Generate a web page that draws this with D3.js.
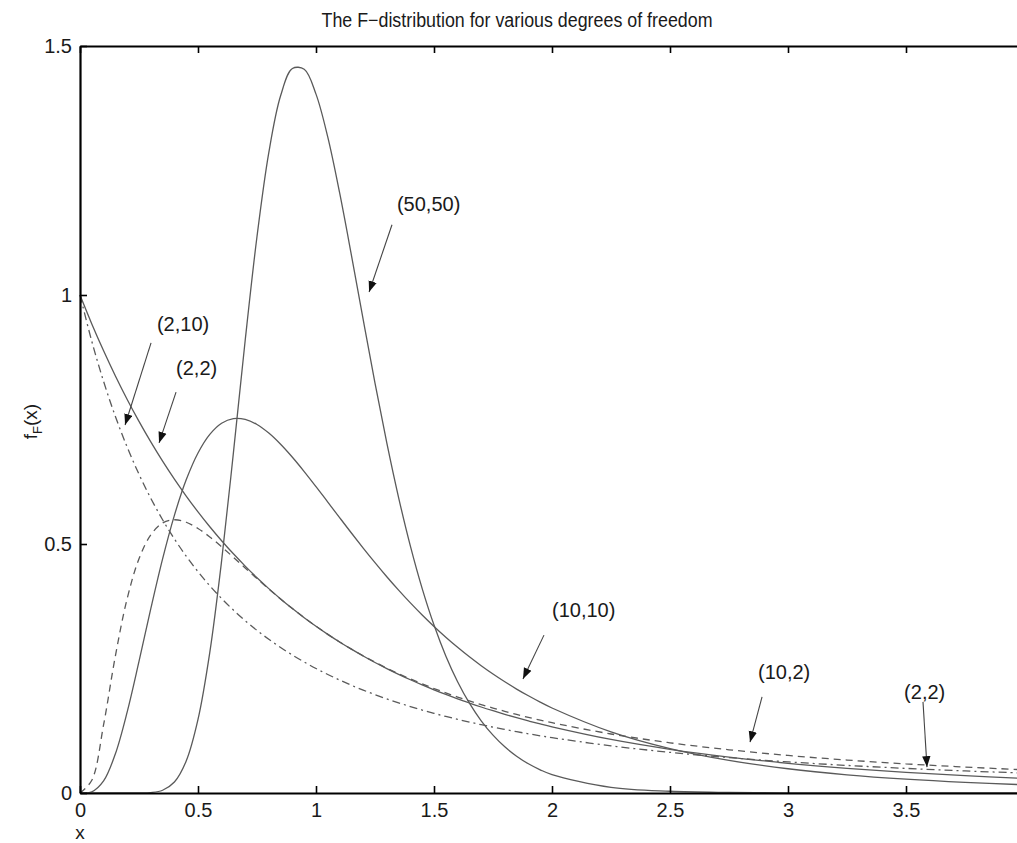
<!DOCTYPE html>
<html>
<head>
<meta charset="utf-8">
<script src="https://cdn.jsdelivr.net/npm/d3@7"></script>
<style>
  html, body { margin: 0; padding: 0; background: #fff; }
  svg { display: block; }
  text { font-family: "Liberation Sans", Arial, Helvetica, sans-serif; fill: #1a1a1a; }
</style>
</head>
<body>
<svg id="chart" width="1017" height="843"></svg>
<script>
// ---------------- data ----------------
const xs = [0,0.05,0.1,0.15,0.2,0.25,0.3,0.35,0.4,0.45,0.5,0.55,0.6,0.65,0.7,0.75,0.8,0.85,0.9,0.95,
            1.0,1.05,1.1,1.15,1.2,1.25,1.3,1.35,1.4,1.45,1.5,1.55,1.6,1.65,1.7,1.75,1.8,1.85,1.9,1.95,
            2.0,2.25,2.5,2.75,3.0,3.25,3.5,3.75,4.0];

const f50_50 = [0,0,0,0,0,0.0001,0.0009,0.0055,0.022,0.0642,0.1477,0.2824,0.466,0.683,0.9091,1.1175,1.286,1.4,1.4548,1.4532,
                1.4034,1.3169,1.2054,1.0803,0.9504,0.8231,0.703,0.5933,0.4957,0.4104,0.3372,0.2752,0.2233,0.1803,0.145,0.1161,0.0927,0.0739,0.0587,0.0466,
                0.0369,0.0114,0.0035,0.0011,0.0004,0.0001,0,0,0];

const f10_10 = [0,0.0024,0.0243,0.0788,0.1628,0.2642,0.3702,0.4702,0.5576,0.6288,0.6828,0.7202,0.7426,0.7519,0.7503,0.74,0.7227,0.7003,0.6742,0.6455,
                0.6152,0.5842,0.553,0.5221,0.4919,0.4626,0.4343,0.4074,0.3817,0.3574,0.3344,0.3128,0.2925,0.2734,0.2556,0.2389,0.2233,0.2087,0.1952,0.1825,
                0.1707,0.1228,0.0892,0.0655,0.0487,0.0366,0.0278,0.0213,0.0165];

const f10_2 = [0,0.0256,0.1372,0.2754,0.3906,0.4704,0.5184,0.5422,0.5487,0.5437,0.5312,0.5142,0.4944,0.4733,0.4518,0.4304,0.4096,0.3895,0.3703,0.3521,
               0.3349,0.3186,0.3033,0.2889,0.2754,0.2627,0.2507,0.2395,0.229,0.2191,0.2097,0.201,0.1927,0.1849,0.1775,0.1706,0.164,0.1578,0.1519,0.1464,
               0.1411,0.1185,0.1008,0.0868,0.0754,0.0662,0.0585,0.0521,0.0466];

const f2_10 = [1,0.942,0.888,0.8375,0.7903,0.7462,0.705,0.6663,0.6302,0.5963,0.5645,0.5346,0.5066,0.4803,0.4556,0.4323,0.4104,0.3898,0.3704,0.3521,
               0.3349,0.3186,0.3033,0.2888,0.2751,0.2621,0.2499,0.2383,0.2274,0.217,0.2072,0.1979,0.189,0.1807,0.1727,0.1652,0.158,0.1512,0.1448,0.1386,
               0.1328,0.1075,0.0878,0.0722,0.0596,0.0495,0.0414,0.0348,0.0294];

const f2_2 = [1,0.907,0.8264,0.7561,0.6944,0.64,0.5917,0.5487,0.5102,0.4756,0.4444,0.4162,0.3906,0.3673,0.346,0.3265,0.3086,0.2922,0.277,0.263,
              0.25,0.238,0.2268,0.2163,0.2066,0.1975,0.189,0.1811,0.1736,0.1666,0.16,0.1538,0.1479,0.1424,0.1372,0.1322,0.1276,0.1231,0.1189,0.1149,
              0.1111,0.0947,0.0816,0.0711,0.0625,0.0554,0.0494,0.0443,0.04];

const xTicks = [0,0.5,1,1.5,2,2.5,3,3.5,4];
const xTickLabels = ["0","0.5","1","1.5","2","2.5","3","3.5","4"];
const yTicks = [0,0.5,1,1.5];
const yTickLabels = ["0","0.5","1","1.5"];

// annotation labels: text anchor point and arrow tail -> tip, in data units
const annLabels = ["(50,50)","(2,10)","(2,2)","(10,10)","(10,2)","(2,2)"];
const annTextX  = [1.343, 0.326, 0.407, 2.0,   2.873, 3.492];
const annTextY  = [1.168, 0.928, 0.839, 0.353, 0.229, 0.189];
const annTailX  = [1.322, 0.301, 0.407, 1.966, 2.890, 3.572];
const annTailY  = [1.141, 0.904, 0.805, 0.317, 0.193, 0.183];
const annTipX   = [1.225, 0.191, 0.335, 1.877, 2.839, 3.589];
const annTipY   = [1.006, 0.739, 0.703, 0.229, 0.102, 0.052];

const titleText = "The F\u2212distribution for various degrees of freedom";

// ---------------- drawing ----------------
const svg = d3.select("#chart");
const x = d3.scaleLinear().domain([0, 4]).range([80, 1024]);
const y = d3.scaleLinear().domain([0, 1.5]).range([793, 46]);

const series = [
  { values: f50_50, dash: null },
  { values: f10_10, dash: null },
  { values: f2_10,  dash: null },
  { values: f10_2,  dash: "7,5" },
  { values: f2_2,   dash: "8,4,2,4" }
];

const line = d3.line()
  .x((d, i) => x(xs[i]))
  .y(d => y(d))
  .curve(d3.curveCatmullRom.alpha(0.5));

svg.append("g").selectAll("path")
  .data(series)
  .join("path")
  .attr("d", s => line(s.values))
  .attr("fill", "none")
  .attr("stroke", "#5a5a5a")
  .attr("stroke-width", 1.3)
  .attr("stroke-dasharray", s => s.dash);

// axes (ticks pointing inward, box)
function styleAxis(g) {
  g.selectAll(".domain").attr("stroke", "#000").attr("stroke-width", 2.2);
  g.selectAll(".tick line").attr("stroke", "#000").attr("stroke-width", 1.6);
  g.selectAll(".tick text").attr("font-size", 20).attr("fill", "#1a1a1a")
    .attr("font-family", "Liberation Sans, Arial, sans-serif");
}

svg.append("g").attr("transform", `translate(0,${y(0)})`)
  .call(d3.axisBottom(x).tickValues(xTicks).tickFormat((d, i) => xTickLabels[i])
        .tickSizeInner(-7).tickSizeOuter(0).tickPadding(10))
  .call(styleAxis);

svg.append("g").attr("transform", `translate(0,${y(1.5)})`)
  .call(d3.axisTop(x).tickValues(xTicks).tickFormat("")
        .tickSizeInner(-7).tickSizeOuter(0))
  .call(styleAxis);

svg.append("g").attr("transform", `translate(${x(0)},0)`)
  .call(d3.axisLeft(y).tickValues(yTicks).tickFormat((d, i) => yTickLabels[i])
        .tickSizeInner(-7).tickSizeOuter(0).tickPadding(8))
  .call(styleAxis);

svg.append("g").attr("transform", `translate(${x(4)},0)`)
  .call(d3.axisRight(y).tickValues(yTicks).tickFormat("")
        .tickSizeInner(-7).tickSizeOuter(0))
  .call(styleAxis);

// arrow marker
svg.append("defs").append("marker")
  .attr("id", "arrow")
  .attr("markerUnits", "userSpaceOnUse")
  .attr("viewBox", "0 -4 10 8")
  .attr("refX", 10).attr("refY", 0)
  .attr("markerWidth", 11).attr("markerHeight", 9)
  .attr("orient", "auto")
  .append("path").attr("d", "M0,-3.8L10,0L0,3.8Z").attr("fill", "#111");

const ann = annLabels.map((t, i) => ({ t, i }));

svg.append("g").selectAll("line")
  .data(ann).join("line")
  .attr("x1", d => x(annTailX[d.i])).attr("y1", d => y(annTailY[d.i]))
  .attr("x2", d => x(annTipX[d.i])).attr("y2", d => y(annTipY[d.i]))
  .attr("stroke", "#444").attr("stroke-width", 1.1)
  .attr("marker-end", "url(#arrow)");

svg.append("g").selectAll("text")
  .data(ann).join("text")
  .attr("x", d => x(annTextX[d.i])).attr("y", d => y(annTextY[d.i]))
  .attr("font-size", 20)
  .text(d => d.t);

// title
svg.append("text")
  .attr("x", 517).attr("y", 27)
  .attr("text-anchor", "middle")
  .attr("font-size", 20)
  .attr("textLength", 391)
  .attr("lengthAdjust", "spacingAndGlyphs")
  .text(titleText);

// y label f_F(x)
const yl = svg.append("text")
  .attr("transform", `translate(37,${(y(0) + y(1.5)) / 2 + 2}) rotate(-90)`)
  .attr("text-anchor", "middle")
  .attr("font-size", 19);
yl.append("tspan").text("f");
yl.append("tspan").attr("font-size", 13).attr("dy", 5).text("F");
yl.append("tspan").attr("dy", -5).text("(x)");

// x label
svg.append("text")
  .attr("x", x(0)).attr("y", 839)
  .attr("text-anchor", "middle")
  .attr("font-size", 19)
  .text("x");
</script>
</body>
</html>
